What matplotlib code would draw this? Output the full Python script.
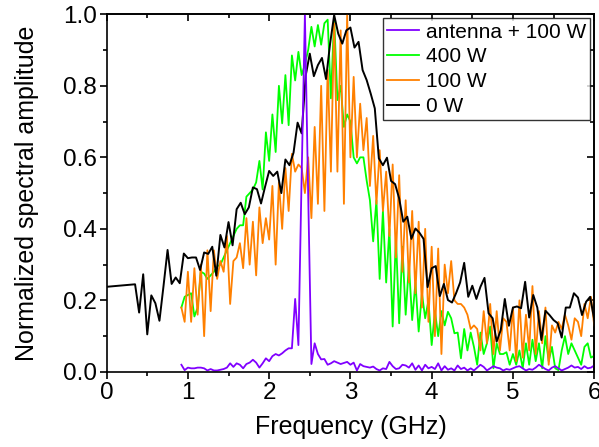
import matplotlib
matplotlib.use("Agg")
import matplotlib.pyplot as plt
from matplotlib.ticker import MultipleLocator
import numpy as np

plt.rcParams['font.family'] = ['Liberation Sans', 'DejaVu Sans']

# 0 W reference spectrum (coarse grid)
freq_0w = [0.0] + [round(0.35 + 0.05 * k, 2) for k in range(114)]
amp_0w = [
    0.238,
    0.245, 0.166, 0.273, 0.105, 0.214, 0.192, 0.143, 0.240, 0.341, 0.246,
    0.264, 0.248, 0.331, 0.318, 0.320, 0.320, 0.285, 0.334, 0.330, 0.350,
    0.269, 0.383, 0.348, 0.419, 0.354, 0.455, 0.473, 0.441, 0.460, 0.516,
    0.511, 0.471, 0.518, 0.562, 0.548, 0.560, 0.500, 0.594, 0.578, 0.613,
    0.697, 0.667, 0.829, 0.890, 0.827, 0.858, 0.878, 0.819, 0.918, 0.998,
    0.946, 0.918, 0.955, 0.963, 0.907, 0.923, 0.844, 0.816, 0.778, 0.737,
    0.597, 0.578, 0.599, 0.534, 0.525, 0.485, 0.420, 0.434, 0.372, 0.401,
    0.389, 0.372, 0.237, 0.290, 0.296, 0.212, 0.246, 0.201, 0.194, 0.220,
    0.250, 0.305, 0.210, 0.241, 0.204, 0.238, 0.263, 0.164, 0.150, 0.085,
    0.117, 0.204, 0.129, 0.180, 0.183, 0.178, 0.252, 0.152, 0.215, 0.180,
    0.089, 0.171, 0.159, 0.145, 0.136, 0.096, 0.180, 0.180, 0.220, 0.208,
    0.159, 0.196, 0.210, 0.147,
]

# 400 W, 100 W and antenna spectra (fine grid, 0.92 - 6.00 GHz)
amp_400w = [
    0.180, 0.210, 0.215, 0.220, 0.155, 0.180, 0.280, 0.275, 0.260, 0.270,
    0.280, 0.295, 0.300, 0.320, 0.340, 0.360, 0.380, 0.400, 0.410, 0.410,
    0.490, 0.500, 0.510, 0.530, 0.590, 0.510, 0.670, 0.590, 0.720, 0.615,
    0.800, 0.695, 0.830, 0.690, 0.885, 0.815, 0.895, 0.830, 0.860, 0.900,
    0.965, 0.910, 0.970, 0.915, 0.975, 0.985, 0.765, 0.990, 0.760, 0.800,
    0.685, 0.720, 0.700, 0.600, 0.583, 0.600, 0.600, 0.535, 0.480, 0.365,
    0.480, 0.260, 0.450, 0.250, 0.400, 0.127, 0.380, 0.136, 0.350, 0.160,
    0.300, 0.145, 0.250, 0.113, 0.220, 0.150, 0.200, 0.075, 0.170, 0.100,
    0.170, 0.130, 0.168, 0.150, 0.108, 0.110, 0.038, 0.120, 0.060, 0.110,
    0.070, 0.020, 0.110, 0.050, 0.080, 0.127, 0.010, 0.080, 0.050, 0.050,
    0.055, 0.020, 0.050, 0.020, 0.060, 0.010, 0.080, 0.020, 0.090, 0.030,
    0.080, 0.010, 0.100, 0.030, 0.070, 0.010, 0.005, 0.060, 0.100, 0.050,
    0.080, 0.060, 0.040, 0.020, 0.070, 0.080, 0.040, 0.045,
]
amp_100w = [
    0.180, 0.140, 0.280, 0.140, 0.290, 0.160, 0.300, 0.100, 0.340, 0.170,
    0.340, 0.260, 0.310, 0.280, 0.380, 0.190, 0.310, 0.320, 0.360, 0.290,
    0.430, 0.300, 0.420, 0.270, 0.460, 0.360, 0.430, 0.370, 0.520, 0.300,
    0.530, 0.400, 0.570, 0.450, 0.610, 0.560, 0.580, 0.570, 0.500, 0.600,
    0.430, 0.685, 0.470, 0.800, 0.450, 0.845, 0.560, 0.975, 0.560, 0.955,
    0.470, 1.000, 0.600, 0.825, 0.600, 0.750, 0.620, 0.710, 0.520, 0.660,
    0.470, 0.620, 0.450, 0.560, 0.380, 0.580, 0.320, 0.550, 0.280, 0.480,
    0.250, 0.450, 0.220, 0.420, 0.180, 0.400, 0.140, 0.350, 0.100, 0.345,
    0.050, 0.300, 0.220, 0.310, 0.200, 0.190, 0.190, 0.180, 0.160, 0.120,
    0.130, 0.120, 0.060, 0.170, 0.080, 0.190, 0.050, 0.170, 0.060, 0.150,
    0.140, 0.060, 0.180, 0.030, 0.200, 0.040, 0.160, 0.060, 0.240, 0.050,
    0.170, 0.080, 0.180, 0.020, 0.130, 0.110, 0.140, 0.120, 0.160, 0.130,
    0.090, 0.150, 0.140, 0.100, 0.190, 0.150, 0.210, 0.130,
]
amp_antenna = [
    0.020, 0.005, 0.012, 0.010, 0.010, 0.012, 0.012, 0.010, 0.004, 0.008,
    0.004, 0.004, 0.006, 0.008, 0.012, 0.024, 0.014, 0.024, 0.020, 0.010,
    0.022, 0.026, 0.034, 0.026, 0.012, 0.024, 0.038, 0.030, 0.044, 0.050,
    0.046, 0.052, 0.060, 0.066, 0.066, 0.204, 0.075, 0.550, 1.000, 0.500,
    0.022, 0.080, 0.050, 0.035, 0.036, 0.020, 0.024, 0.030, 0.026, 0.022,
    0.025, 0.028, 0.020, 0.026, 0.004, 0.022, 0.016, 0.014, 0.012, 0.015,
    0.008, 0.004, 0.010, 0.008, 0.028, 0.016, 0.008, 0.010, 0.020, 0.018,
    0.012, 0.024, 0.006, 0.018, 0.004, 0.020, 0.010, 0.014, 0.008, 0.024,
    0.004, 0.016, 0.006, 0.010, 0.004, 0.018, 0.008, 0.012, 0.004, 0.010,
    0.004, 0.012, 0.020, 0.014, 0.004, 0.010, 0.016, 0.012, 0.010, 0.004,
    0.008, 0.006, 0.010, 0.014, 0.016, 0.010, 0.004, 0.008, 0.006, 0.012,
    0.020, 0.014, 0.008, 0.004, 0.012, 0.016, 0.010, 0.004, 0.008, 0.012,
    0.018, 0.012, 0.014, 0.008, 0.016, 0.010, 0.012, 0.018,
]
freq_fine = 0.92 + 0.04 * np.arange(len(amp_100w))

fig = plt.figure(figsize=(5.99, 4.47), dpi=100)
ax = fig.add_axes([0.178, 0.168, 0.814, 0.800])

l400, = ax.plot(freq_fine, amp_400w, color='#00ff00', lw=1.3, label='400 W')
l100, = ax.plot(freq_fine, amp_100w, color='#ff8000', lw=1.3, label='100 W')
l0, = ax.plot(freq_0w, amp_0w, color='black', lw=1.4, label='0 W')
lant, = ax.plot(freq_fine, amp_antenna, color='#8000ff', lw=1.3, label='antenna + 100 W')

ax.set_xlim(0, 6)
ax.set_ylim(0, 1.0)
ax.xaxis.set_major_locator(MultipleLocator(1))
ax.xaxis.set_minor_locator(MultipleLocator(0.5))
ax.yaxis.set_major_locator(MultipleLocator(0.2))
ax.yaxis.set_minor_locator(MultipleLocator(0.1))
ax.yaxis.set_major_formatter(plt.FormatStrFormatter('%.1f'))

ax.tick_params(which='both', direction='out', top=False, right=False,
               labelsize=17.5, width=1.2, pad=2)
ax.tick_params(which='major', length=5)
ax.tick_params(which='minor', length=3)
for s in ax.spines.values():
    s.set_linewidth(1.2)

# inward ticks on top and right, Origin style
axt = ax.secondary_xaxis('top')
axt.xaxis.set_major_locator(MultipleLocator(1))
axt.xaxis.set_minor_locator(MultipleLocator(0.5))
axt.tick_params(which='both', direction='in', labeltop=False, width=1.2)
axt.tick_params(which='major', length=5)
axt.tick_params(which='minor', length=3)
axr = ax.secondary_yaxis('right')
axr.yaxis.set_major_locator(MultipleLocator(0.2))
axr.yaxis.set_minor_locator(MultipleLocator(0.1))
axr.tick_params(which='both', direction='in', labelright=False, width=1.2)
axr.tick_params(which='major', length=5)
axr.tick_params(which='minor', length=3)
axt.spines['top'].set_linewidth(1.2)
axr.spines['right'].set_linewidth(1.2)

ax.set_xlabel('Frequency (GHz)', fontsize=18, labelpad=8)
ax.set_ylabel('Normalized spectral amplitude', fontsize=18, labelpad=17)

leg = ax.legend(handles=[lant, l400, l100, l0], loc='upper right',
                fontsize=15, frameon=True, fancybox=False, edgecolor='black',
                borderpad=0.2, labelspacing=0.28, handlelength=1.55,
                handletextpad=0.3, borderaxespad=0.2)
leg.get_frame().set_linewidth(1.0)

fig.savefig('out.png', dpi=100)
